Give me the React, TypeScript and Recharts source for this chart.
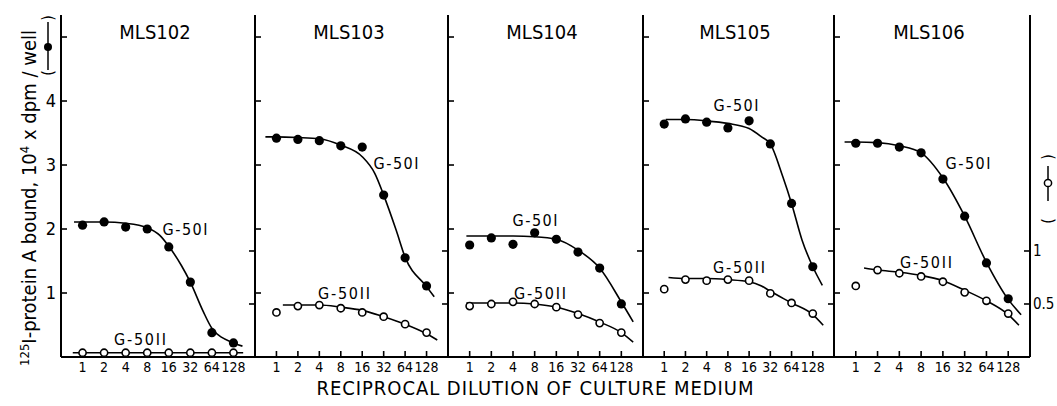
import React from 'react';
import { ComposedChart, Line, XAxis, YAxis } from 'recharts';

const FONT = '"DejaVu Sans Condensed", "DejaVu Sans", sans-serif';

const PANEL_NAMES = ['MLS102', 'MLS103', 'MLS104', 'MLS105', 'MLS106'];
const DILUTIONS = [1, 2, 4, 8, 16, 32, 64, 128];
const LEFT_TICKS = [1, 2, 3, 4, 5];
const RIGHT_TICKS = [0.5, 1];

// G-50I, 10^4 dpm/well (left scale), one row per panel
const G50I = [
  [2.06, 2.11, 2.03, 2.0, 1.72, 1.17, 0.38, 0.22],
  [3.42, 3.4, 3.38, 3.3, 3.28, 2.53, 1.55, 1.11],
  [1.75, 1.86, 1.76, 1.94, 1.84, 1.64, 1.39, 0.83],
  [3.64, 3.72, 3.67, 3.58, 3.69, 3.33, 2.4, 1.41],
  [3.34, 3.34, 3.28, 3.19, 2.78, 2.2, 1.47, 0.91],
];

// G-50II (right scale)
const G50II = [
  [0.04, 0.04, 0.04, 0.04, 0.04, 0.04, 0.04, 0.04],
  [0.42, 0.48, 0.49, 0.46, 0.42, 0.38, 0.31, 0.23],
  [0.48, 0.5, 0.52, 0.5, 0.47, 0.4, 0.32, 0.23],
  [0.64, 0.73, 0.72, 0.73, 0.72, 0.6, 0.51, 0.41],
  [0.67, 0.82, 0.79, 0.76, 0.71, 0.61, 0.53, 0.41],
];

// hand-drawn fitted curves
const G50I_FIT_X = [
  [0.76, 1, 2, 4, 8, 12, 16, 24, 32, 48, 64, 128, 171],
  [0.7, 1, 2, 4, 8, 16, 24, 32, 48, 64, 128, 164],
  [0.9, 1, 2, 4, 8, 16, 32, 64, 128, 187],
  [1.05, 2, 4, 8, 16, 24, 32, 48, 64, 90, 128, 175],
  [0.7, 1, 2, 4, 8, 16, 32, 64, 128, 193],
];
const G50I_FIT_Y = [
  [2.11, 2.11, 2.11, 2.09, 2.02, 1.9, 1.73, 1.43, 1.17, 0.72, 0.45, 0.22, 0.17],
  [3.44, 3.44, 3.43, 3.41, 3.31, 3.13, 2.87, 2.53, 1.98, 1.56, 1.1, 0.94],
  [1.89, 1.89, 1.89, 1.89, 1.88, 1.84, 1.67, 1.39, 0.86, 0.55],
  [3.71, 3.71, 3.69, 3.65, 3.57, 3.44, 3.33, 2.82, 2.4, 1.83, 1.41, 1.12],
  [3.36, 3.36, 3.35, 3.3, 3.19, 2.8, 2.2, 1.48, 0.9, 0.66],
];
const G50II_FIT_X = [
  [0.73, 175],
  [1.23, 2, 4, 8, 16, 32, 64, 128, 181],
  [0.9, 1, 2, 4, 8, 16, 32, 64, 128, 187],
  [1.15, 2, 4, 8, 16, 24, 32, 64, 128, 180],
  [1.3, 2, 4, 8, 16, 32, 64, 128, 180],
];
const G50II_FIT_Y = [
  [0.04, 0.04],
  [0.49, 0.49, 0.49, 0.47, 0.44, 0.38, 0.31, 0.22, 0.16],
  [0.51, 0.51, 0.51, 0.51, 0.5, 0.47, 0.41, 0.33, 0.23, 0.14],
  [0.75, 0.74, 0.74, 0.73, 0.71, 0.67, 0.62, 0.51, 0.4, 0.3],
  [0.84, 0.82, 0.8, 0.77, 0.72, 0.63, 0.53, 0.4, 0.3],
];

// layout
const EDGES = [61, 255, 448, 643, 834, 1030];
const TITLE_POS = [155, 349, 542, 735, 929];
const LABEL_I = [[185, 229], [396, 163], [535, 220], [736, 105], [968, 163]];
const LABEL_II = [[140, 339], [344, 293], [540, 293], [739, 267], [926, 262]];

const axisLine = { stroke: '#000', strokeWidth: 2 };
const tickLine = { stroke: '#000', strokeWidth: 1.6 };

function Panel({ idx }: { idx: number }) {
  const lw = idx === 0 ? 61 : 1;
  const rw = idx === 4 ? 27 : 1;
  const width = EDGES[idx + 1] - EDGES[idx] + lw + rw;
  const points = DILUTIONS.map((d, k) => ({ x: d, a: G50I[idx][k], b: G50II[idx][k] }));
  const fitA = G50I_FIT_X[idx].map((x, k) => ({ x, y: G50I_FIT_Y[idx][k] }));
  const fitB = G50II_FIT_X[idx].map((x, k) => ({ x, y: G50II_FIT_Y[idx][k] }));

  return (
    <div style={{ position: 'absolute', left: EDGES[idx] - lw, top: 0 }}>
      <ComposedChart width={width} height={406} margin={{ top: 15, right: 0, bottom: 0, left: 0 }}>
        <XAxis
          dataKey="x"
          type="number"
          scale="log"
          domain={[0.5, 256]}
          allowDataOverflow
          ticks={DILUTIONS}
          interval={0}
          height={49}
          tickSize={-6}
          tickMargin={11}
          axisLine={axisLine}
          tickLine={tickLine}
          tick={{ fill: '#000', fontSize: 14, fontFamily: FONT }}
        />
        <YAxis
          yAxisId="l"
          type="number"
          domain={[0, 5.344]}
          allowDataOverflow
          ticks={LEFT_TICKS}
          interval={0}
          width={lw}
          tickSize={-6}
          tickMargin={11}
          axisLine={axisLine}
          tickLine={tickLine}
          tick={{ fill: '#000', fontSize: 18, fontFamily: FONT }}
          tickFormatter={(v: number) => (idx !== 0 || v === 5 ? '' : String(v))}
        />
        <YAxis
          yAxisId="r"
          orientation="right"
          type="number"
          domain={[0, 3.226]}
          allowDataOverflow
          ticks={RIGHT_TICKS}
          interval={0}
          width={rw}
          tickSize={-6}
          tickMargin={9}
          axisLine={axisLine}
          tickLine={tickLine}
          tick={{ fill: '#000', fontSize: 15, fontFamily: FONT }}
          tickFormatter={(v: number) => (idx !== 4 ? '' : String(v))}
        />
        <Line yAxisId="l" data={fitA} dataKey="y" type="monotone" stroke="#000" strokeWidth={1.6} dot={false} activeDot={false} isAnimationActive={false} />
        <Line yAxisId="r" data={fitB} dataKey="y" type="monotone" stroke="#000" strokeWidth={1.6} dot={false} activeDot={false} isAnimationActive={false} />
        <Line
          yAxisId="l"
          data={points}
          dataKey="a"
          stroke="none"
          strokeWidth={0}
          dot={{ r: 4.6, fill: '#000', stroke: '#000', strokeWidth: 0 }}
          activeDot={false}
          isAnimationActive={false}
        />
        <Line
          yAxisId="r"
          data={points}
          dataKey="b"
          stroke="none"
          strokeWidth={0}
          dot={{ r: 3.6, fill: '#fff', stroke: '#000', strokeWidth: 1.6 }}
          activeDot={false}
          isAnimationActive={false}
        />
      </ComposedChart>
    </div>
  );
}

function Overlay() {
  return (
    <svg width={1057} height={406} style={{ position: 'absolute', left: 0, top: 0, pointerEvents: 'none' }}>
      <g fontFamily={FONT} fill="#000">
        {PANEL_NAMES.map((name, i) => (
          <text key={name} x={TITLE_POS[i]} y={39} fontSize={20} textAnchor="middle">
            {name}
          </text>
        ))}
        {LABEL_I.map(([x, y], i) => (
          <text key={'a' + i} x={x} y={y + 6} fontSize={16} textAnchor="middle" textLength={45} lengthAdjust="spacing">
            G-50I
          </text>
        ))}
        {LABEL_II.map(([x, y], i) => (
          <text key={'b' + i} x={x} y={y + 6} fontSize={16} textAnchor="middle" textLength={52} lengthAdjust="spacing">
            G-50II
          </text>
        ))}
        <text x={535} y={395} fontSize={20} textAnchor="middle" textLength={437} lengthAdjust="spacing">
          RECIPROCAL DILUTION OF CULTURE MEDIUM
        </text>
        <text transform="translate(36,198) rotate(-90)" fontSize={20} textAnchor="middle">
          <tspan fontSize={13} dy={-7}>125</tspan>
          <tspan dy={7}>I-protein A bound, 10</tspan>
          <tspan fontSize={13} dy={-7}>4</tspan>
          <tspan dy={7}> x dpm / well</tspan>
        </text>

        {/* left legend glyph */}
        <text transform="translate(53,73) rotate(-90)" fontSize={16} textAnchor="middle">(</text>
        <text transform="translate(53,18) rotate(-90)" fontSize={16} textAnchor="middle">)</text>
        <line x1={48} y1={22} x2={48} y2={70} stroke="#000" strokeWidth={1.5} />
        <circle cx={48} cy={47} r={4} fill="#000" />

        {/* right legend glyph */}
        <text transform="translate(1053,221) rotate(-90)" fontSize={16} textAnchor="middle">(</text>
        <text transform="translate(1053,157) rotate(-90)" fontSize={16} textAnchor="middle">)</text>
        <line x1={1048} y1={166} x2={1048} y2={201} stroke="#000" strokeWidth={1.5} />
        <circle cx={1048} cy={183} r={3.6} fill="#fff" stroke="#000" strokeWidth={1.5} />
      </g>
    </svg>
  );
}

export default function App() {
  return (
    <div style={{ position: 'absolute', left: 0, top: 0, width: 1057, height: 406, background: '#fff' }}>
      {PANEL_NAMES.map((_, i) => (
        <Panel key={i} idx={i} />
      ))}
      <Overlay />
    </div>
  );
}
